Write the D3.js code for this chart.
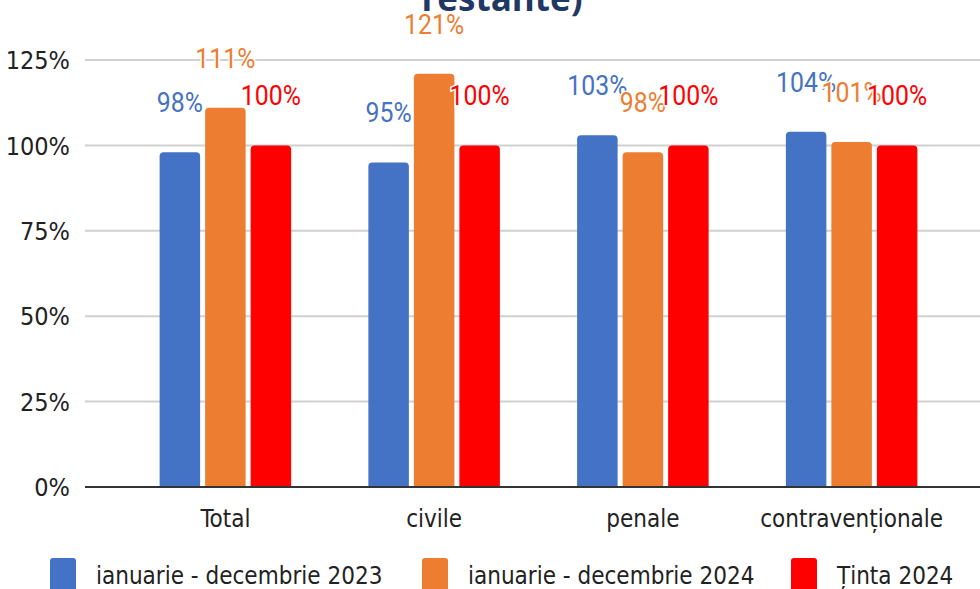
<!DOCTYPE html>
<html>
<head>
<meta charset="utf-8">
<script src="https://cdnjs.cloudflare.com/ajax/libs/d3/7.8.5/d3.min.js"></script>
<style>
  body { margin: 0; background: #fff; }
  .axisText { font-family: "Liberation Sans Narrow", "DejaVu Sans Condensed", sans-serif; fill: #222; }
  .valLabel { font-family: Roboto, sans-serif; paint-order: stroke; stroke: #fff; stroke-width: 3px; }
</style>
</head>
<body>
<div id="chart"></div>
<script>
var svgWidth = 980;
var svgHeight = 589;

// chart data
var categories = ["Total", "civile", "penale", "contravenționale"];
var seriesNames = ["ianuarie - decembrie 2023", "ianuarie - decembrie 2024", "Ținta 2024"];
var values2023 = [98, 95, 103, 104];
var values2024 = [111, 121, 98, 101];
var target2024 = [100, 100, 100, 100];
var yTicks = [0, 25, 50, 75, 100, 125];

var colors = ["#4472c4", "#ed7d31", "#ff0000"];
var allSeries = [values2023, values2024, target2024];

var svg = d3.select("#chart")
  .append("svg")
  .attr("width", svgWidth)
  .attr("height", svgHeight);

// Scales
var yScale = d3.scaleLinear()
  .domain([0, 125])
  .range([487, 60]);

var x0 = d3.scaleBand()
  .domain(categories)
  .range([121, 956])
  .paddingInner(0.37)
  .paddingOuter(0.185);

var x1 = d3.scaleBand()
  .domain(d3.range(seriesNames.length))
  .range([0, x0.bandwidth()])
  .paddingInner(0.11);

// Title (cropped at the top)
svg.append("text")
  .attr("x", 502)
  .attr("y", 11)
  .attr("text-anchor", "middle")
  .style("font-family", "'Open Sans', sans-serif")
  .style("font-weight", "bold")
  .style("font-size", "35px")
  .style("fill", "#1f3864")
  .text("restante)");

// Gridlines
svg.append("g")
  .selectAll("line")
  .data(yTicks.filter(d => d > 0))
  .enter()
  .append("line")
  .attr("x1", 85)
  .attr("x2", svgWidth)
  .attr("y1", d => yScale(d))
  .attr("y2", d => yScale(d))
  .attr("stroke", "#d0d0d0")
  .attr("stroke-width", 2);

// Y axis labels
var leftAxis = d3.axisLeft(yScale)
  .tickValues(yTicks)
  .tickSize(0)
  .tickPadding(0)
  .tickFormat(d => d + "%");

var yAxis = svg.append("g")
  .attr("transform", "translate(70, 0)")
  .call(leftAxis);
yAxis.select(".domain").remove();
yAxis.selectAll("text")
  .attr("class", "axisText")
  .attr("dy", "0.35em")
  .style("font-size", "25px");

// Bars
var groups = svg.append("g")
  .selectAll("g")
  .data(categories)
  .enter()
  .append("g")
  .attr("transform", d => `translate(${x0(d)}, 0)`);

function barPath(x, y, w, h, r) {
  return `M${x},${y + h}V${y + r}Q${x},${y} ${x + r},${y}H${x + w - r}Q${x + w},${y} ${x + w},${y + r}V${y + h}Z`;
}

groups.each(function(cat, ci) {
  var g = d3.select(this);
  allSeries.forEach(function(vals, si) {
    var v = vals[ci];
    var bx = x1(si);
    var by = yScale(v);
    g.append("path")
      .attr("d", barPath(bx, by, x1.bandwidth(), yScale(0) - by, 4))
      .attr("fill", colors[si]);
  });
});

// Value labels
groups.each(function(cat, ci) {
  var g = d3.select(this);
  allSeries.forEach(function(vals, si) {
    var v = vals[ci];
    var cx = x1(si) + x1.bandwidth() / 2;
    g.append("text")
      .attr("class", "valLabel")
      .attr("transform", `translate(${cx}, ${yScale(v) - 40}) scale(0.92, 1)`)
      .attr("text-anchor", "middle")
      .style("font-size", "27px")
      .style("fill", colors[si])
      .text(v + "%");
  });
});

// Zero line
svg.append("line")
  .attr("x1", 85)
  .attr("x2", svgWidth)
  .attr("y1", yScale(0))
  .attr("y2", yScale(0))
  .attr("stroke", "#333")
  .attr("stroke-width", 2);

// X axis labels
var bottomAxis = d3.axisBottom(x0).tickSize(0).tickPadding(0);
var xAxis = svg.append("g")
  .attr("transform", `translate(0, ${yScale(0)})`)
  .call(bottomAxis);
xAxis.select(".domain").remove();
xAxis.selectAll("text")
  .attr("class", "axisText")
  .attr("y", 40)
  .attr("dy", 0)
  .style("font-size", "24px");

// Legend
var legendX = [50, 422, 791];
var legend = svg.append("g")
  .selectAll("g")
  .data(seriesNames)
  .enter()
  .append("g")
  .attr("transform", (d, i) => `translate(${legendX[i]}, 558)`);

legend.append("rect")
  .attr("width", 26)
  .attr("height", 34)
  .attr("rx", 3)
  .attr("fill", (d, i) => colors[i]);

legend.append("text")
  .attr("class", "axisText")
  .attr("x", 46)
  .attr("y", 26)
  .style("font-size", "24px")
  .text(d => d);
</script>
</body>
</html>
